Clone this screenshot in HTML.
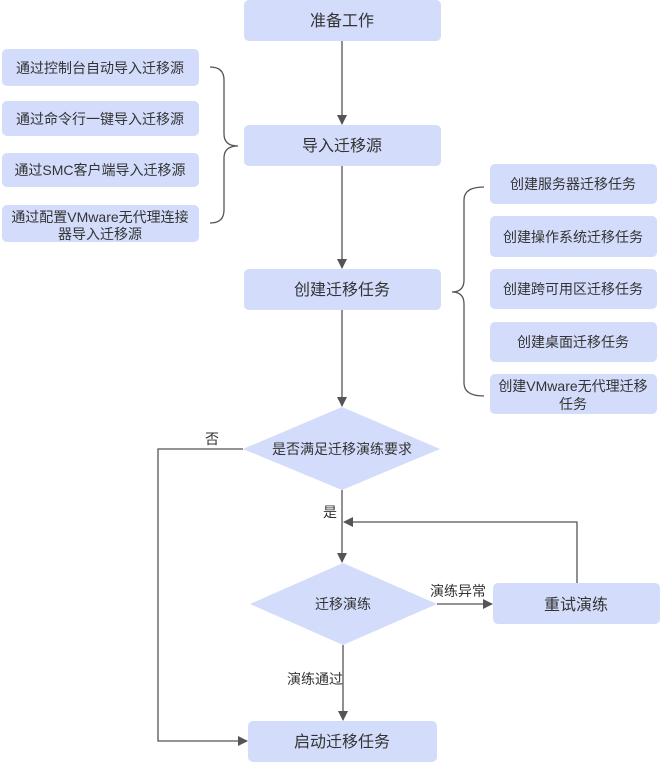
<!DOCTYPE html>
<html><head><meta charset="utf-8"><style>
html,body{margin:0;padding:0;background:#fff;}
text{font-family:"Liberation Sans","Noto Sans CJK SC",sans-serif;fill:#333;}
</style></head><body>
<svg width="660" height="762" viewBox="0 0 660 762" xmlns="http://www.w3.org/2000/svg">
<defs><marker id="a" markerWidth="10" markerHeight="10" refX="9" refY="5" orient="auto" markerUnits="userSpaceOnUse"><path d="M0,0 L10,5 L0,10 z" fill="#555"/></marker></defs>
<g fill="#d3dcfa">
<rect x="244" y="0" width="197" height="41" rx="5"/>
<rect x="244" y="125" width="197" height="41" rx="5"/>
<rect x="244" y="269" width="197" height="41" rx="5"/>
<rect x="2" y="49" width="197" height="37" rx="5"/>
<rect x="2" y="101" width="197" height="35" rx="5"/>
<rect x="2" y="153" width="197" height="34" rx="5"/>
<rect x="2" y="205" width="197" height="37" rx="5"/>
<rect x="490" y="164" width="167" height="40" rx="5"/>
<rect x="490" y="216" width="167" height="41" rx="5"/>
<rect x="490" y="269" width="167" height="40" rx="5"/>
<rect x="490" y="322" width="167" height="40" rx="5"/>
<rect x="490" y="374" width="167" height="40" rx="5"/>
<polygon points="243,449 342,407 440,449 342,490"/>
<polygon points="250,604 343,563 437,604 343,645"/>
<rect x="493" y="583" width="167" height="41" rx="5"/>
<rect x="248" y="721" width="189" height="41" rx="5"/>
</g>
<g stroke="#555" stroke-width="1.3" fill="none">
<line x1="342" y1="41" x2="342" y2="124" marker-end="url(#a)"/>
<line x1="342" y1="166" x2="342" y2="268" marker-end="url(#a)"/>
<line x1="342" y1="310" x2="342" y2="406" marker-end="url(#a)"/>
<line x1="342" y1="490" x2="342" y2="562" marker-end="url(#a)"/>
<line x1="343" y1="645" x2="343" y2="720" marker-end="url(#a)"/>
<line x1="437" y1="604" x2="492" y2="604" marker-end="url(#a)"/>
<polyline points="577,583 577,522 344,522" marker-end="url(#a)"/>
<polyline points="243,449 158,449 158,741 247,741" marker-end="url(#a)"/>
<path d="M210,67 Q224,67 224,80 L224,134 Q224,146 238,146 Q224,146 224,158 L224,210 Q224,223 210,223"/>
<path d="M484,187 Q464,187 464,200 L464,280 Q464,292 452,292 Q464,292 464,304 L464,383 Q464,396 484,396"/>
</g>
<g font-size="16" text-anchor="middle">
<text x="342" y="26">准备工作</text>
<text x="342" y="151">导入迁移源</text>
<text x="342" y="295">创建迁移任务</text>
<text x="342" y="454" font-size="14">是否满足迁移演练要求</text>
<text x="343" y="609" font-size="14">迁移演练</text>
<text x="576" y="610">重试演练</text>
<text x="342" y="747">启动迁移任务</text>
</g>
<g font-size="14" text-anchor="middle">
<text x="100" y="73">通过控制台自动导入迁移源</text>
<text x="100" y="124">通过命令行一键导入迁移源</text>
<text x="100" y="175">通过SMC客户端导入迁移源</text>
<text x="100" y="222">通过配置VMware无代理连接</text>
<text x="100" y="239">器导入迁移源</text>
<text x="573" y="189">创建服务器迁移任务</text>
<text x="573" y="242">创建操作系统迁移任务</text>
<text x="573" y="294">创建跨可用区迁移任务</text>
<text x="573" y="347">创建桌面迁移任务</text>
<text x="573" y="391">创建VMware无代理迁移</text>
<text x="573" y="409">任务</text>
<text x="212" y="444">否</text>
<text x="330" y="517">是</text>
<text x="458" y="596">演练异常</text>
<text x="315" y="684">演练通过</text>
</g>
</svg>
</body></html>
